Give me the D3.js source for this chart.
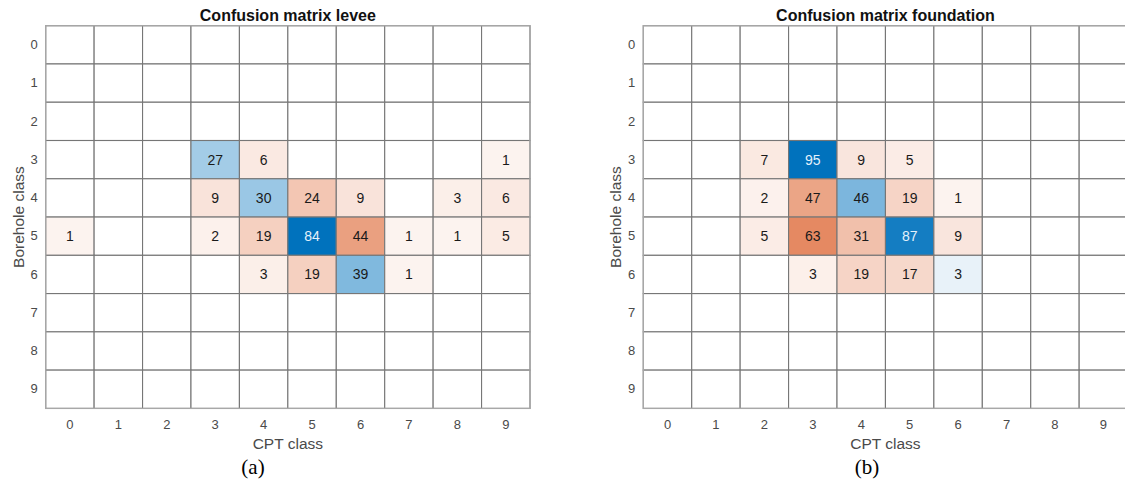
<!DOCTYPE html>
<html>
<head>
<meta charset="utf-8"/>
<script src="https://cdn.jsdelivr.net/npm/d3@7"></script>
<style>
body { margin: 0; background: #fff; }
.tick text { fill: #4a4a4a; font-family: "Liberation Sans", Arial, sans-serif; font-size: 13px; }
.title { font-family: "Liberation Sans", Arial, sans-serif; font-weight: bold; font-size: 16px; fill: #111; }
.label { font-family: "Liberation Sans", Arial, sans-serif; font-size: 15.5px; fill: #4a4a4a; }
.sub { font-family: "Liberation Serif", "Times New Roman", serif; font-size: 21px; fill: #000; }
.cell-text { font-family: "Liberation Sans", Arial, sans-serif; font-size: 14px; }
</style>
</head>
<body>
<svg id="fig" width="1125" height="487"></svg>
<script>
var classes = ["0","1","2","3","4","5","6","7","8","9"];

// rows = borehole class, columns = CPT class
var leveeCounts = [
  [0,0,0,0,0,0,0,0,0,0],
  [0,0,0,0,0,0,0,0,0,0],
  [0,0,0,0,0,0,0,0,0,0],
  [0,0,0,27,6,0,0,0,0,1],
  [0,0,0,9,30,24,9,0,3,6],
  [1,0,0,2,19,84,44,1,1,5],
  [0,0,0,0,3,19,39,1,0,0],
  [0,0,0,0,0,0,0,0,0,0],
  [0,0,0,0,0,0,0,0,0,0],
  [0,0,0,0,0,0,0,0,0,0]
];

var foundationCounts = [
  [0,0,0,0,0,0,0,0,0,0],
  [0,0,0,0,0,0,0,0,0,0],
  [0,0,0,0,0,0,0,0,0,0],
  [0,0,7,95,9,5,0,0,0,0],
  [0,0,2,47,46,19,1,0,0,0],
  [0,0,5,63,31,87,9,0,0,0],
  [0,0,0,3,19,17,3,0,0,0],
  [0,0,0,0,0,0,0,0,0,0],
  [0,0,0,0,0,0,0,0,0,0],
  [0,0,0,0,0,0,0,0,0,0]
];

var panels = [
  {title: "Confusion matrix levee", sub: "(a)", counts: leveeCounts, left: 45.7, subX: 253},
  {title: "Confusion matrix foundation", sub: "(b)", counts: foundationCounts, left: 643.3, subX: 867}
];

var diagColor = "#0072bd";
var offColor = "#d95319";
var gridTop = 25.7, gridW = 484.3, gridH = 382.7;

var svg = d3.select("#fig");

panels.forEach(function(p) {
  var g = svg.append("g");
  var x = d3.scaleBand().domain(classes).range([p.left, p.left + gridW]);
  var y = d3.scaleBand().domain(classes).range([gridTop, gridTop + gridH]);
  var maxV = d3.max(p.counts, function(r) { return d3.max(r); });
  var shade = d3.scaleLinear().domain([0, maxV]).range([0.06, 1]);

  var cells = [];
  p.counts.forEach(function(row, i) {
    row.forEach(function(v, j) {
      cells.push({r: classes[i], c: classes[j], v: v, diag: i === j});
    });
  });

  function fillOf(d) {
    if (!d.v) return "#fff";
    return d3.interpolateRgb("#fff", d.diag ? diagColor : offColor)(shade(d.v));
  }

  g.selectAll("rect.cell")
    .data(cells)
    .enter().append("rect")
    .attr("class", "cell")
    .attr("x", function(d) { return x(d.c); })
    .attr("y", function(d) { return y(d.r); })
    .attr("width", x.bandwidth())
    .attr("height", y.bandwidth())
    .attr("fill", fillOf)
    .attr("stroke", "#767676")
    .attr("stroke-width", 1.1);

  // outer frame
  g.append("rect")
    .attr("x", p.left).attr("y", gridTop)
    .attr("width", gridW).attr("height", gridH)
    .attr("fill", "none")
    .attr("stroke", "#a8a8a8")
    .attr("stroke-width", 1.3);

  g.selectAll("text.cell-text")
    .data(cells.filter(function(d) { return d.v > 0; }))
    .enter().append("text")
    .attr("class", "cell-text")
    .attr("x", function(d) { return x(d.c) + x.bandwidth() / 2; })
    .attr("y", function(d) { return y(d.r) + y.bandwidth() / 2; })
    .attr("dy", "0.36em")
    .attr("text-anchor", "middle")
    .attr("fill", function(d) { return shade(d.v) > 0.75 ? "#e4f1fb" : "#1a1a1a"; })
    .text(function(d) { return d.v; });

  g.append("g")
    .attr("transform", "translate(0," + (gridTop + gridH + 8) + ")")
    .call(d3.axisBottom(x).tickSize(0).tickPadding(3))
    .call(function(a) { a.select(".domain").remove(); });

  g.append("g")
    .attr("transform", "translate(" + (p.left - 5) + ",0)")
    .call(d3.axisLeft(y).tickSize(0).tickPadding(3))
    .call(function(a) { a.select(".domain").remove(); });

  g.append("text")
    .attr("class", "title")
    .attr("x", p.left + gridW / 2)
    .attr("y", 20.5)
    .attr("text-anchor", "middle")
    .text(p.title);

  g.append("text")
    .attr("class", "label")
    .attr("x", p.left + gridW / 2)
    .attr("y", 449)
    .attr("text-anchor", "middle")
    .text("CPT class");

  g.append("text")
    .attr("class", "label")
    .attr("transform", "translate(" + (p.left - 22) + "," + (gridTop + gridH / 2) + ") rotate(-90)")
    .attr("text-anchor", "middle")
    .text("Borehole class");

  g.append("text")
    .attr("class", "sub")
    .attr("x", p.subX)
    .attr("y", 474)
    .attr("text-anchor", "middle")
    .text(p.sub);
});
</script>
</body>
</html>
